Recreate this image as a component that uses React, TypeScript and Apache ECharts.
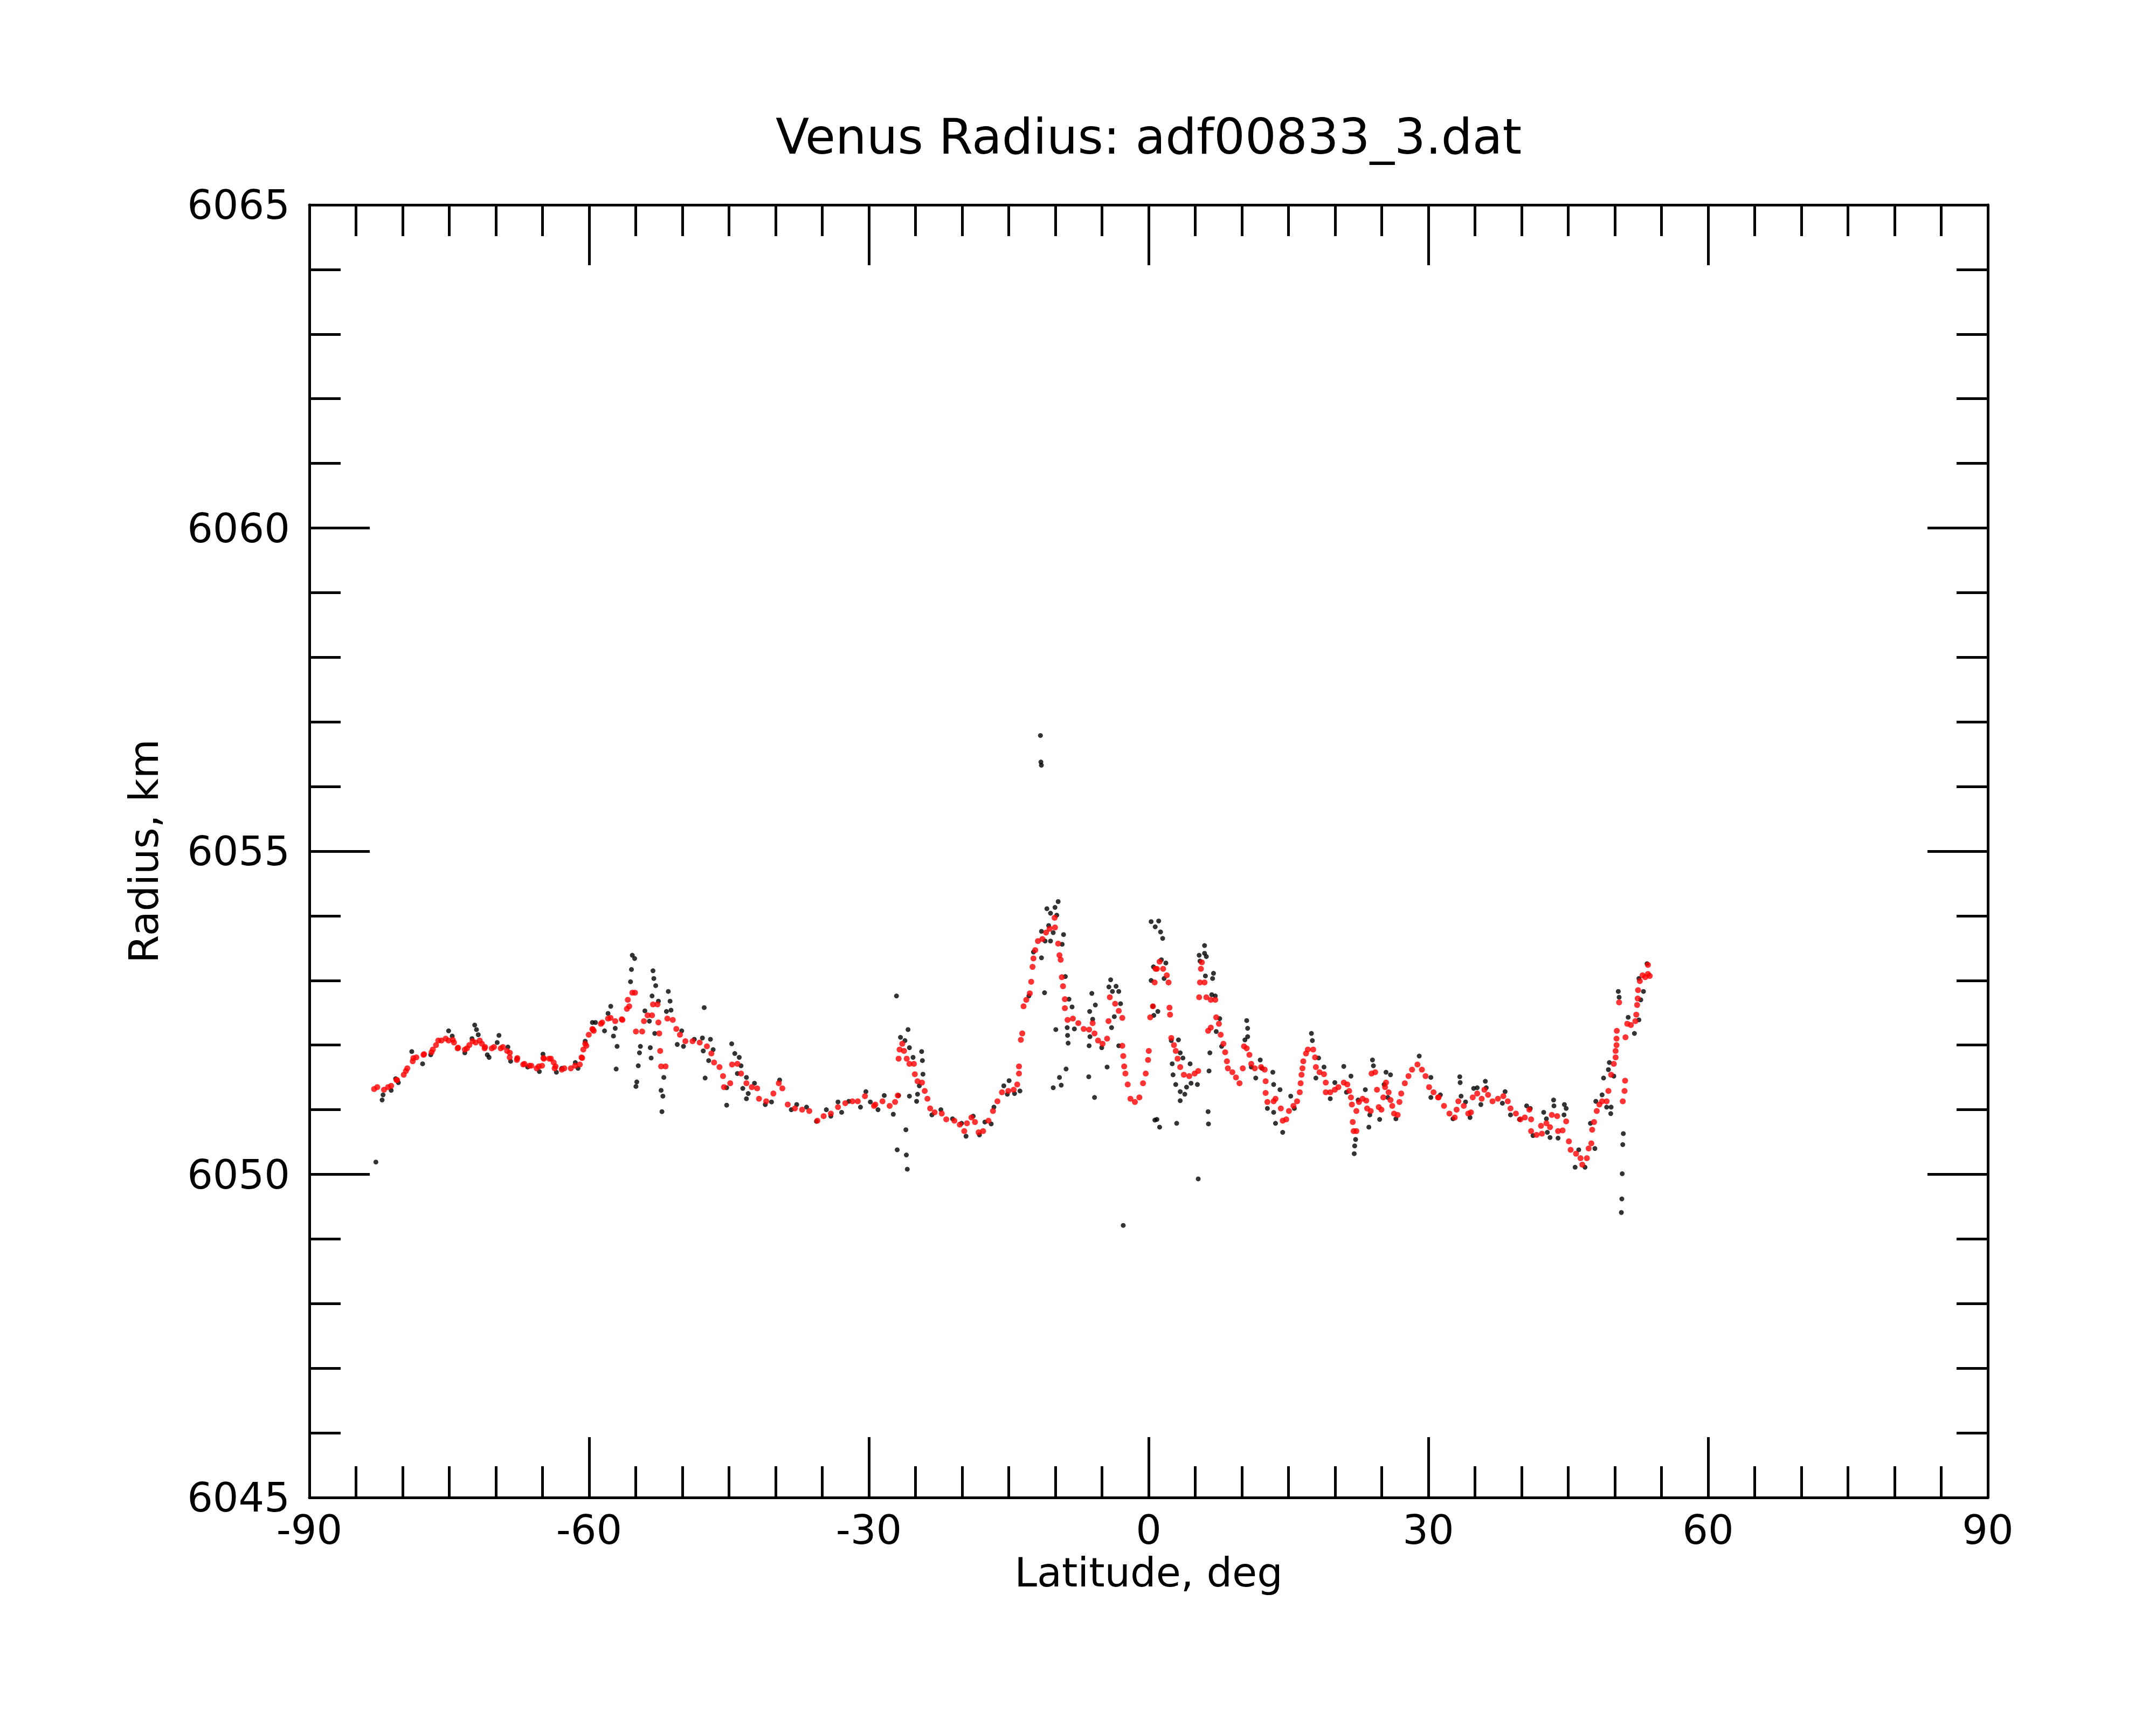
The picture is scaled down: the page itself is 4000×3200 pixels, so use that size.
import React, { useEffect, useRef } from "react";
import * as echarts from "echarts";

const titleText = "Venus Radius: adf00833_3.dat";
const xName = "Latitude, deg";
const yName = "Radius, km";
const xTicks = { min: -90, max: 90, interval: 30 };
const yTicks = { min: 6045, max: 6065, interval: 5 };

// Smoothed radius (red)
const redPoints: [number, number][] = [
  [-83.06, 6051.32], [-82.72, 6051.35], [-82.0, 6051.31], [-81.56, 6051.35], [-81.23, 6051.37],
  [-80.65, 6051.46], [-80.6, 6051.46], [-79.88, 6051.54], [-79.65, 6051.6], [-79.5, 6051.64],
  [-78.92, 6051.75], [-78.85, 6051.8], [-78.53, 6051.81], [-77.76, 6051.85], [-77.7, 6051.86],
  [-76.9, 6051.89], [-76.76, 6051.93], [-76.42, 6052.0], [-76.18, 6052.07], [-75.84, 6052.07],
  [-75.38, 6052.1], [-75.07, 6052.07], [-74.62, 6052.08], [-74.49, 6052.04], [-74.1, 6051.95],
  [-74.05, 6051.96], [-73.33, 6051.93], [-73.1, 6051.95], [-72.85, 6052.0], [-72.5, 6052.06],
  [-72.17, 6052.04], [-71.73, 6052.07], [-71.5, 6052.02], [-71.21, 6051.95], [-71.16, 6051.97],
  [-70.44, 6051.95], [-70.2, 6051.97], [-69.48, 6051.95], [-69.25, 6051.97], [-68.8, 6051.91],
  [-68.52, 6051.81], [-68.5, 6051.88], [-67.75, 6051.77], [-67.7, 6051.8], [-67.07, 6051.7],
  [-66.94, 6051.71], [-66.4, 6051.68], [-66.2, 6051.68], [-65.63, 6051.64], [-65.4, 6051.67],
  [-65.05, 6051.68], [-64.9, 6051.8], [-64.86, 6051.79], [-64.28, 6051.79], [-64.1, 6051.79],
  [-63.8, 6051.73], [-63.7, 6051.64], [-63.6, 6051.67], [-62.93, 6051.62], [-62.66, 6051.64],
  [-61.96, 6051.64], [-61.5, 6051.68], [-61.0, 6051.7], [-60.81, 6051.81], [-60.75, 6051.8],
  [-60.62, 6051.93], [-60.42, 6052.02], [-60.3, 6051.99], [-60.04, 6052.16], [-59.65, 6052.25],
  [-59.6, 6052.24], [-59.51, 6052.22], [-58.74, 6052.33], [-58.6, 6052.35], [-57.97, 6052.41],
  [-57.7, 6052.42], [-57.2, 6052.37], [-56.5, 6052.4], [-56.43, 6052.39], [-55.95, 6052.56],
  [-55.85, 6052.7], [-55.7, 6052.6], [-55.37, 6052.81], [-55.08, 6052.81],
  [-54.98, 6052.21], [-54.31, 6052.21], [-54.12, 6052.37], [-53.73, 6052.46], [-53.25, 6052.46],
  [-53.15, 6052.63], [-52.67, 6052.63], [-52.57, 6052.35], [-52.48, 6052.18], [-52.38, 6051.91],
  [-52.28, 6051.67], [-51.8, 6051.67], [-51.61, 6052.41], [-51.03, 6052.39], [-50.65, 6052.25],
  [-50.26, 6052.16], [-49.68, 6052.06], [-48.91, 6052.06], [-48.14, 6052.04], [-47.37, 6051.98],
  [-46.89, 6051.87], [-46.6, 6051.73], [-46.02, 6051.66], [-45.64, 6051.52], [-45.54, 6051.35],
  [-44.87, 6051.41], [-44.67, 6051.7], [-44.1, 6051.71], [-43.71, 6051.56], [-43.13, 6051.41],
  [-42.55, 6051.35], [-41.98, 6051.33], [-41.78, 6051.17], [-41.01, 6051.13], [-40.24, 6051.25],
  [-39.66, 6051.41], [-39.28, 6051.33], [-38.7, 6051.08], [-37.93, 6051.02], [-37.16, 6051.0],
  [-36.39, 6050.98], [-35.52, 6050.83], [-34.85, 6050.9], [-34.08, 6050.94], [-33.31, 6051.04],
  [-32.53, 6051.1], [-31.76, 6051.13], [-31.19, 6051.13], [-30.42, 6051.21], [-29.45, 6051.06],
  [-29.31, 6051.08], [-28.54, 6051.13], [-27.77, 6051.06], [-27.19, 6051.12], [-26.9, 6051.22],
  [-26.81, 6051.79], [-26.71, 6051.93], [-26.42, 6052.02], [-26.23, 6051.91], [-25.94, 6051.79],
  [-25.65, 6051.71], [-25.17, 6051.71], [-25.07, 6051.55], [-24.78, 6051.44], [-24.3, 6051.42],
  [-24.01, 6051.29], [-23.72, 6051.17], [-23.43, 6051.02], [-22.95, 6050.96], [-22.18, 6050.94],
  [-21.7, 6050.85], [-20.83, 6050.83], [-20.25, 6050.77], [-19.77, 6050.67], [-19.48, 6050.79],
  [-19.0, 6050.88], [-18.62, 6050.81], [-18.23, 6050.65], [-17.75, 6050.67], [-17.17, 6050.83],
  [-16.69, 6050.98], [-16.21, 6051.13], [-15.73, 6051.27], [-15.05, 6051.29], [-14.47, 6051.31],
  [-14.09, 6051.39], [-13.9, 6051.56], [-13.9, 6051.67], [-13.7, 6052.08], [-13.55, 6052.18],
  [-13.41, 6052.6], [-13.12, 6052.7], [-12.74, 6052.8], [-12.59, 6052.98], [-12.45, 6053.21],
  [-12.35, 6053.34], [-12.16, 6053.47], [-11.87, 6053.61], [-11.39, 6053.64], [-11.0, 6053.74],
  [-10.62, 6053.8], [-10.04, 6053.82], [-10.08, 6053.97], [-9.7, 6053.57], [-9.56, 6053.39],
  [-9.43, 6053.32], [-9.31, 6053.05], [-9.18, 6052.91], [-8.98, 6052.71], [-8.98, 6052.57],
  [-8.69, 6052.39], [-8.12, 6052.41], [-7.54, 6052.34], [-6.96, 6052.25], [-6.38, 6052.24],
  [-6.0, 6052.34], [-5.8, 6052.18], [-5.42, 6052.07], [-4.94, 6052.02], [-4.45, 6052.1],
  [-4.3, 6052.37], [-4.16, 6052.74], [-3.59, 6052.64], [-3.2, 6052.53], [-2.82, 6052.42],
  [-2.82, 6051.99], [-2.72, 6051.83], [-2.62, 6051.67], [-2.49, 6051.56], [-2.24, 6051.39],
  [-1.95, 6051.17], [-1.47, 6051.12], [-0.99, 6051.19], [-0.6, 6051.41], [-0.31, 6051.56],
  [-0.06, 6051.77], [0.02, 6051.91], [0.17, 6052.43], [0.46, 6052.6], [0.65, 6052.97],
  [0.75, 6053.18], [0.89, 6053.18], [1.18, 6053.29], [1.56, 6053.18], [1.95, 6053.08],
  [2.14, 6052.97], [2.24, 6052.58], [2.3, 6052.47], [2.43, 6052.11], [2.72, 6052.0],
  [2.91, 6051.91], [3.11, 6051.79], [3.39, 6051.66], [3.78, 6051.54], [4.36, 6051.52],
  [4.94, 6051.56], [5.32, 6051.6], [5.42, 6052.74], [5.51, 6052.97], [5.61, 6053.18],
  [5.71, 6053.28], [6.0, 6052.97], [6.19, 6052.74], [6.67, 6052.7], [7.15, 6052.7],
  [6.38, 6052.22], [6.67, 6052.27], [7.25, 6052.43], [7.54, 6052.33], [7.73, 6052.16],
  [8.02, 6052.02], [8.21, 6051.89], [8.4, 6051.75], [8.5, 6051.64], [8.98, 6051.58],
  [9.37, 6051.5], [9.75, 6051.41], [10.1, 6051.64], [10.23, 6051.98], [10.52, 6051.95],
  [10.81, 6051.85], [11.01, 6051.71], [11.39, 6051.64], [12.06, 6051.66], [12.45, 6051.62],
  [12.55, 6051.44], [12.55, 6051.26], [12.74, 6051.12], [13.41, 6051.13], [13.61, 6051.17],
  [14.18, 6051.02], [14.38, 6050.83], [14.76, 6050.85], [15.05, 6050.98], [15.53, 6051.06],
  [15.92, 6051.13], [16.21, 6051.27], [16.3, 6051.41], [16.4, 6051.54], [16.5, 6051.64],
  [16.59, 6051.75], [16.88, 6051.87], [17.08, 6051.93], [17.65, 6051.93], [17.85, 6051.81],
  [17.94, 6051.66], [18.33, 6051.58], [18.81, 6051.55], [19.0, 6051.42], [19.0, 6051.27],
  [19.48, 6051.27], [19.97, 6051.31], [20.35, 6051.35], [20.93, 6051.42], [21.31, 6051.39],
  [21.51, 6051.29], [21.7, 6051.19], [21.8, 6051.08], [21.89, 6050.81], [21.99, 6050.67],
  [22.28, 6050.67], [22.28, 6050.98], [22.56, 6051.12], [22.95, 6051.17], [23.34, 6051.14],
  [23.43, 6051.02], [23.82, 6050.98], [23.91, 6051.56], [24.3, 6051.58], [24.49, 6051.31],
  [24.68, 6051.04], [24.97, 6051.0], [25.17, 6051.19], [25.36, 6051.35], [25.46, 6051.42],
  [25.74, 6051.27], [25.94, 6051.15], [26.13, 6051.06], [26.32, 6050.94], [26.71, 6050.92],
  [26.9, 6051.12], [27.09, 6051.25], [27.48, 6051.41], [27.87, 6051.52], [28.25, 6051.62],
  [28.83, 6051.7], [29.31, 6051.62], [29.7, 6051.52], [30.08, 6051.35], [30.56, 6051.27],
  [31.04, 6051.19], [31.1, 6051.19], [31.68, 6051.06], [32.26, 6050.94], [32.83, 6050.88],
  [33.03, 6051.0], [33.22, 6051.13], [33.8, 6051.06], [34.28, 6050.94], [34.57, 6050.96],
  [34.76, 6051.19], [35.24, 6051.25], [35.72, 6051.17], [36.01, 6051.31], [36.4, 6051.23],
  [36.88, 6051.13], [37.46, 6051.17], [38.04, 6051.21], [38.52, 6051.13], [38.81, 6051.02],
  [39.39, 6050.94], [39.87, 6050.85], [40.35, 6050.88], [40.83, 6051.0], [41.02, 6050.85],
  [41.02, 6050.67], [41.6, 6050.61], [42.18, 6050.63], [42.08, 6050.75], [42.66, 6050.79],
  [43.05, 6050.73], [43.24, 6050.92], [43.82, 6050.9], [43.91, 6050.67], [44.4, 6050.68],
  [44.78, 6050.82], [45.07, 6050.51], [45.26, 6050.38], [45.84, 6050.32], [46.32, 6050.25],
  [46.51, 6050.15], [47.0, 6050.25], [47.19, 6050.4], [47.48, 6050.48], [47.57, 6050.69],
  [47.77, 6050.81], [48.06, 6050.98], [48.34, 6051.08], [48.63, 6051.13], [49.12, 6051.13],
  [49.31, 6051.29], [49.6, 6051.54], [49.89, 6051.71], [50.08, 6051.81], [50.08, 6051.91],
  [50.18, 6052.0], [50.18, 6052.1], [50.21, 6052.22], [50.46, 6052.66], [50.85, 6051.13],
  [51.04, 6051.29], [51.1, 6051.45], [51.14, 6052.12], [51.33, 6052.33], [51.72, 6052.31],
  [52.2, 6052.37], [52.3, 6052.47], [52.39, 6052.62], [52.45, 6052.72], [52.49, 6052.85],
  [52.68, 6052.99], [52.97, 6053.08], [53.26, 6053.05], [53.55, 6053.1], [53.55, 6053.24],
  [53.74, 6053.07],
];

// Raw radius measurements (black)
const blackPoints: [number, number][] = [
  [-82.87, 6050.19], [-82.2, 6051.15], [-82.1, 6051.23], [-81.23, 6051.3], [-80.75, 6051.48],
  [-80.46, 6051.42], [-79.02, 6051.9], [-77.86, 6051.71], [-76.99, 6051.85], [-75.07, 6052.22],
  [-74.68, 6052.14], [-73.33, 6051.88], [-72.56, 6052.1], [-72.27, 6052.31], [-72.08, 6052.24],
  [-71.89, 6052.16], [-70.73, 6051.81], [-70.92, 6051.85], [-69.67, 6052.15], [-69.86, 6052.04],
  [-68.71, 6051.97], [-68.42, 6051.75], [-67.75, 6051.79], [-66.59, 6051.66], [-65.34, 6051.59],
  [-64.95, 6051.86], [-63.51, 6051.58], [-62.93, 6051.64], [-61.48, 6051.73], [-61.19, 6051.64],
  [-60.42, 6052.06], [-59.65, 6052.35],
  [-59.32, 6052.35], [-58.35, 6052.22], [-57.97, 6052.49], [-57.68, 6052.6], [-57.39, 6052.14],
  [-57.2, 6052.26], [-57.0, 6051.98], [-57.1, 6051.63], [-55.37, 6053.39], [-55.12, 6053.34],
  [-55.46, 6053.17], [-55.56, 6052.98], [-54.5, 6051.98], [-54.6, 6051.88], [-54.73, 6051.68],
  [-54.89, 6051.43], [-54.98, 6051.36], [-54.02, 6052.53], [-53.54, 6052.37], [-53.44, 6051.96],
  [-53.35, 6051.8], [-53.15, 6053.15], [-53.06, 6053.03], [-52.86, 6052.92], [-53.25, 6052.76],
  [-52.57, 6052.68], [-52.96, 6052.18], [-51.99, 6051.5], [-52.28, 6051.3], [-52.09, 6051.21],
  [-52.19, 6050.97], [-51.51, 6052.83], [-51.32, 6052.68], [-51.22, 6052.54], [-51.71, 6052.52],
  [-50.07, 6052.22], [-50.55, 6052.01], [-49.88, 6051.98], [-48.72, 6052.09], [-47.66, 6052.58],
  [-47.85, 6052.11], [-46.99, 6052.09], [-47.76, 6051.91], [-47.18, 6051.76], [-47.56, 6051.49],
  [-46.7, 6051.93], [-45.25, 6051.34], [-45.25, 6051.07], [-44.71, 6052.02], [-44.38, 6051.87],
  [-43.9, 6051.81], [-43.71, 6051.68], [-44.1, 6051.56], [-43.13, 6051.5], [-43.52, 6051.33],
  [-42.94, 6051.25], [-43.13, 6051.17], [-42.27, 6051.41], [-41.11, 6051.08], [-40.44, 6051.12],
  [-39.57, 6051.46], [-38.32, 6051.0], [-37.74, 6051.08], [-36.68, 6051.04], [-35.62, 6050.82],
  [-34.56, 6051.0], [-34.08, 6050.9], [-33.31, 6051.12], [-32.92, 6050.96], [-32.15, 6051.13],
  [-30.9, 6051.04], [-30.32, 6051.28], [-29.84, 6051.12],
  [-27.04, 6052.76], [-25.8, 6052.24], [-26.61, 6052.12], [-26.13, 6052.07], [-25.65, 6051.96],
  [-25.26, 6051.81], [-24.34, 6051.9], [-24.26, 6051.76], [-24.2, 6051.55], [-24.78, 6051.24],
  [-24.88, 6051.13], [-25.65, 6051.21], [-24.59, 6051.37], [-26.03, 6050.69], [-26.96, 6050.38],
  [-25.98, 6050.3], [-25.88, 6050.08], [-27.38, 6050.93], [-29.02, 6051.0], [-28.35, 6051.22],
  [-26.81, 6051.22], [-23.24, 6050.92], [-22.28, 6051.0], [-21.03, 6050.86], [-20.06, 6050.79],
  [-19.58, 6050.59], [-18.81, 6050.9], [-18.14, 6050.61], [-17.56, 6050.81], [-16.88, 6050.78],
  [-16.59, 6051.04], [-15.53, 6051.37], [-14.96, 6051.45], [-15.15, 6051.24], [-14.38, 6051.25],
  [-13.8, 6051.29], [-12.84, 6052.76], [-12.35, 6053.44], [-11.49, 6053.35], [-11.49, 6053.76],
  [-10.91, 6054.11], [-10.52, 6054.04], [-10.04, 6054.13], [-9.7, 6054.22], [-9.85, 6054.01],
  [-10.72, 6053.85], [-10.23, 6053.74], [-10.52, 6053.61], [-11.1, 6053.61], [-11.16, 6052.81],
  [-9.12, 6053.71], [-9.27, 6053.56], [-8.93, 6053.06], [-8.54, 6052.71], [-8.21, 6052.59],
  [-8.73, 6052.27], [-8.69, 6052.15], [-8.63, 6052.03], [-7.96, 6052.25], [-9.95, 6052.24],
  [-8.85, 6051.63], [-9.56, 6051.5], [-9.37, 6051.38], [-10.23, 6051.34], [-6.38, 6051.99],
  [-6.29, 6052.13], [-6.32, 6052.52], [-6.09, 6052.8], [-5.71, 6052.62], [-6.0, 6052.4],
  [-6.42, 6051.51], [-5.8, 6051.19], [-5.03, 6051.96], [-4.45, 6051.66], [-4.07, 6053.01],
  [-4.26, 6052.9], [-3.49, 6052.91], [-3.88, 6052.83], [-3.2, 6052.83], [-3.01, 6052.64],
  [-3.97, 6052.27], [-3.68, 6052.44], [-3.2, 6051.99], [-2.72, 6049.21], [0.27, 6053.91],
  [0.71, 6053.83], [0.52, 6053.21], [0.27, 6053.0], [0.46, 6052.6], [0.56, 6052.46],
  [0.67, 6050.84], [-11.6, 6056.79], [-11.55, 6056.38], [-11.5, 6056.33],
  [1.08, 6053.92], [1.28, 6053.75], [1.51, 6053.65], [1.37, 6053.32], [1.85, 6053.27],
  [1.66, 6053.03], [0.99, 6052.52], [0.89, 6050.85], [1.18, 6050.73], [3.01, 6050.79],
  [2.43, 6052.07], [3.2, 6052.08], [3.39, 6051.88], [3.68, 6051.8], [2.53, 6051.71],
  [2.62, 6051.54], [2.91, 6051.39], [3.39, 6051.28], [3.88, 6051.24], [3.39, 6051.14],
  [4.07, 6051.35], [4.45, 6051.71], [4.55, 6051.41], [5.23, 6051.39], [5.32, 6049.93],
  [5.42, 6053.39], [6.0, 6053.54], [6.0, 6053.42], [6.19, 6053.37], [6.09, 6053.07],
  [5.51, 6053.3], [6.96, 6053.11], [6.86, 6053.03], [6.77, 6052.78], [7.15, 6052.76],
  [6.57, 6051.88], [6.48, 6051.6], [6.38, 6050.97], [6.42, 6050.78], [7.25, 6052.21],
  [7.63, 6052.41], [7.83, 6051.98], [10.52, 6052.38], [10.62, 6052.26], [10.62, 6052.13],
  [10.33, 6052.08], [11.01, 6051.66], [11.49, 6051.49], [11.97, 6051.77], [12.16, 6051.64],
  [13.32, 6051.58], [13.41, 6051.39], [14.09, 6051.31], [12.74, 6051.02], [13.41, 6050.96],
  [13.61, 6050.79], [14.38, 6050.65], [15.24, 6051.21], [15.63, 6051.02], [17.46, 6052.18],
  [17.56, 6052.07], [18.23, 6051.8], [17.94, 6051.49], [18.81, 6051.66], [19.48, 6051.17],
  [19.97, 6051.42], [20.93, 6051.67], [21.7, 6051.52], [21.22, 6051.27], [22.2, 6050.54],
  [22.1, 6050.44], [22.05, 6050.32], [22.47, 6051.15], [23.24, 6051.31], [23.62, 6050.73],
  [23.72, 6050.92], [24.01, 6051.77], [24.11, 6051.68], [24.78, 6050.85], [25.46, 6051.58],
  [25.94, 6051.54], [25.26, 6051.39], [25.65, 6051.19], [26.52, 6050.86], [29.02, 6051.83],
  [30.27, 6051.5], [30.27, 6051.19],
  [31.29, 6051.23], [32.64, 6050.86], [33.37, 6051.51], [33.41, 6051.42], [33.51, 6051.21],
  [33.99, 6051.12], [34.47, 6050.88], [34.86, 6051.33], [35.24, 6051.34], [35.63, 6051.08],
  [36.11, 6051.44], [36.21, 6051.34], [37.94, 6051.1], [38.23, 6051.28], [38.81, 6050.92],
  [39.77, 6050.85], [40.54, 6051.06], [40.93, 6051.02], [41.22, 6050.6], [42.37, 6050.96],
  [42.66, 6050.86], [42.76, 6050.65], [43.05, 6050.57], [43.43, 6051.15], [43.47, 6051.06],
  [43.91, 6050.56], [44.59, 6051.08], [44.78, 6051.02], [44.55, 6050.92], [46.13, 6050.38],
  [45.74, 6050.11], [46.8, 6050.11], [47.38, 6050.79], [47.86, 6050.4], [47.96, 6051.13],
  [48.63, 6051.23], [48.79, 6051.49], [49.12, 6051.04], [49.56, 6050.94], [49.6, 6051.04],
  [49.31, 6051.62], [49.41, 6051.73], [49.89, 6051.52], [50.37, 6052.83], [50.46, 6052.74],
  [50.91, 6050.63], [50.85, 6050.46], [50.79, 6050.01], [50.75, 6049.62], [50.7, 6049.41],
  [51.43, 6052.43], [52.1, 6052.18], [52.58, 6052.39], [52.78, 6052.7], [53.07, 6052.83],
  [52.58, 6053.03], [53.45, 6053.26],
];

const FONT = "DejaVu Sans";
const BLACK = "#000000";

export default function App() {
  const ref = useRef<HTMLDivElement>(null);
  useEffect(() => {
    if (!ref.current) return;
    const chart = echarts.init(ref.current, null, { renderer: "svg" });
    const grid = { left: 574, top: 380, width: 3114, height: 2398 };
    const lineStyle = { color: BLACK, width: 5 };
    const baseX = {
      type: "value",
      min: xTicks.min,
      max: xTicks.max,
      interval: xTicks.interval,
      splitLine: { show: false },
      axisLine: { show: true, onZero: false, lineStyle },
      axisTick: { show: true, inside: true, length: 112, lineStyle },
      minorTick: { show: true, splitNumber: 6, length: 58, lineStyle },
      minorSplitLine: { show: false },
    };
    const baseY = {
      type: "value",
      min: yTicks.min,
      max: yTicks.max,
      interval: yTicks.interval,
      splitLine: { show: false },
      axisLine: { show: true, onZero: false, lineStyle },
      axisTick: { show: true, inside: true, length: 112, lineStyle },
      minorTick: { show: true, splitNumber: 5, length: 58, lineStyle },
      minorSplitLine: { show: false },
    };
    chart.setOption({
      animation: false,
      backgroundColor: "#ffffff",
      grid,
      graphic: [
        {
          type: "text",
          x: 2131,
          y: 253,
          style: {
            text: titleText,
            fontFamily: FONT,
            fontSize: 91,
            fill: BLACK,
            textAlign: "center",
            textVerticalAlign: "middle",
          },
        },
      ],
      xAxis: [
        {
          ...baseX,
          position: "bottom",
          name: xName,
          nameLocation: "middle",
          nameGap: 92,
          nameTextStyle: { fontFamily: FONT, fontSize: 75, color: BLACK },
          axisLabel: {
            show: true,
            margin: 22,
            fontFamily: FONT,
            fontSize: 75,
            color: BLACK,
            formatter: (v: number) => String(v),
          },
        },
        {
          ...baseX,
          position: "top",
          axisLabel: { show: false },
        },
      ],
      yAxis: [
        {
          ...baseY,
          position: "left",
          name: yName,
          nameLocation: "middle",
          nameGap: 270,
          nameRotate: 90,
          nameTextStyle: { fontFamily: FONT, fontSize: 75, color: BLACK },
          axisLabel: {
            show: true,
            margin: 36,
            fontFamily: FONT,
            fontSize: 75,
            color: BLACK,
            formatter: (v: number) => String(v),
          },
        },
        {
          ...baseY,
          position: "right",
          axisLabel: { show: false },
        },
      ],
      series: [
        {
          type: "scatter",
          xAxisIndex: 0,
          yAxisIndex: 0,
          data: blackPoints,
          symbol: "circle",
          symbolSize: 9,
          itemStyle: { color: BLACK },
          z: 2,
        },
        {
          type: "scatter",
          xAxisIndex: 0,
          yAxisIndex: 0,
          data: redPoints,
          symbol: "circle",
          symbolSize: 11,
          itemStyle: { color: "#ff0000" },
          z: 3,
        },
      ],
    });
    return () => chart.dispose();
  }, []);
  return (
    <div
      ref={ref}
      style={{ position: "absolute", left: 0, top: 0, width: 4000, height: 3200, background: "#fff" }}
    />
  );
}
